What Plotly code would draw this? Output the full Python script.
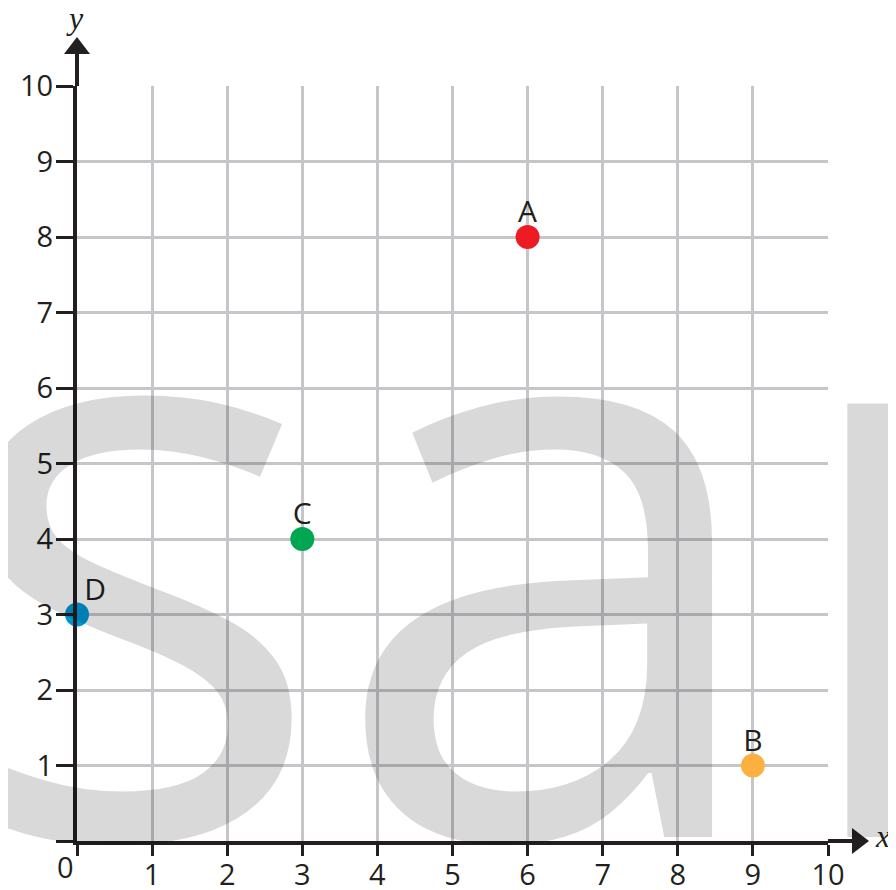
import plotly.graph_objects as go

# Data
names = ["A", "B", "C", "D"]
xs = [6, 9, 3, 0]
ys = [8, 1, 4, 3]
colors = ["#ed1c24", "#fbb040", "#00a651", "#0096d6"]
text_pos = ["top center", "top center", "top center", "top right"]
x_ticks = list(range(0, 11))
y_ticks = list(range(0, 11))
x_ticktext = [""] + [str(v) for v in range(1, 11)]
y_ticktext = [""] + [str(v) for v in range(1, 11)]

# page body has an 8px margin, so the figure is drawn 8px smaller and offset
W, H = 888, 882
L, R, T, B = 69, 68, 78, 49
PW, PH = W - L - R, H - T - B

def px(xp):  # reference-pixel x -> paper
    return (xp - 77) / PW

def py(yp):  # reference-pixel y -> paper
    return (841 - yp) / PH

FONT = "Open Sans"
INK = "#231f20"

fig = go.Figure()
fig.add_trace(go.Scatter(
    x=xs, y=ys, mode="markers",
    marker=dict(size=24, color=colors, line=dict(width=0)),
    cliponaxis=False, showlegend=False, hoverinfo="skip",
))
fig.add_trace(go.Scatter(
    x=xs, y=ys, mode="markers+text", text=names, textposition=text_pos,
    marker=dict(size=10, color="rgba(0,0,0,0)", line=dict(width=0)),
    textfont=dict(family=FONT, size=30, color=INK),
    cliponaxis=False, showlegend=False, hoverinfo="skip",
))

axis_common = dict(
    range=[0, 10], showgrid=True, gridcolor="#c6c6ca", gridwidth=2.5,
    zeroline=False, showline=True, linecolor=INK, linewidth=4,
    ticks="outside", tickcolor=INK, tickwidth=3, automargin=False,
    tickfont=dict(family=FONT, size=29, color=INK), fixedrange=True,
)

fig.update_layout(
    width=W, height=H,
    margin=dict(l=L, r=R, t=T, b=B, pad=0, autoexpand=False),
    paper_bgcolor="white", plot_bgcolor="white",
    xaxis=dict(axis_common, tickvals=x_ticks, ticktext=x_ticktext, ticklen=11,
               ticklabelstandoff=-6),
    yaxis=dict(axis_common, tickvals=y_ticks, ticktext=y_ticktext, ticklen=17,
               ticklabelstandoff=-3),
)

# axis extensions and arrowheads
fig.add_shape(type="line", xref="paper", yref="paper", x0=0, x1=0, y0=1, y1=py(50),
              line=dict(color=INK, width=4))
fig.add_shape(type="path", xref="paper", yref="paper",
              path=f"M {px(77)} {py(37)} L {px(64)} {py(54)} L {px(90)} {py(54)} Z",
              fillcolor=INK, line=dict(width=0))
fig.add_shape(type="line", xref="paper", yref="paper", x0=1, x1=px(856), y0=0, y1=0,
              line=dict(color=INK, width=4))
fig.add_shape(type="path", xref="paper", yref="paper",
              path=f"M {px(869)} {py(841)} L {px(852)} {py(828)} L {px(852)} {py(854)} Z",
              fillcolor=INK, line=dict(width=0))

annos = [
    dict(text="y", x=px(75), y=py(18), font=dict(family="Liberation Serif", size=32, color=INK)),
    dict(text="x", x=px(882), y=py(836), font=dict(family="Liberation Serif", size=32, color=INK)),
]
for a in annos:
    fig.add_annotation(xref="paper", yref="paper", showarrow=False,
                       xanchor="center", yanchor="middle",
                       text=f"<i>{a['text']}</i>", x=a["x"], y=a["y"], font=a["font"])
fig.add_annotation(xref="paper", yref="paper", showarrow=False, xanchor="center",
                   yanchor="middle", text="0", x=px(65), y=py(866),
                   font=dict(family=FONT, size=29, color=INK))

# watermark
fig.add_annotation(xref="paper", yref="paper", showarrow=False, xanchor="left",
                   yanchor="bottom", text="sample", x=px(-60), y=py(1076),
                   font=dict(family=FONT, size=810, color="rgba(0,0,0,0.15)"))

fig.write_html("out.html")
